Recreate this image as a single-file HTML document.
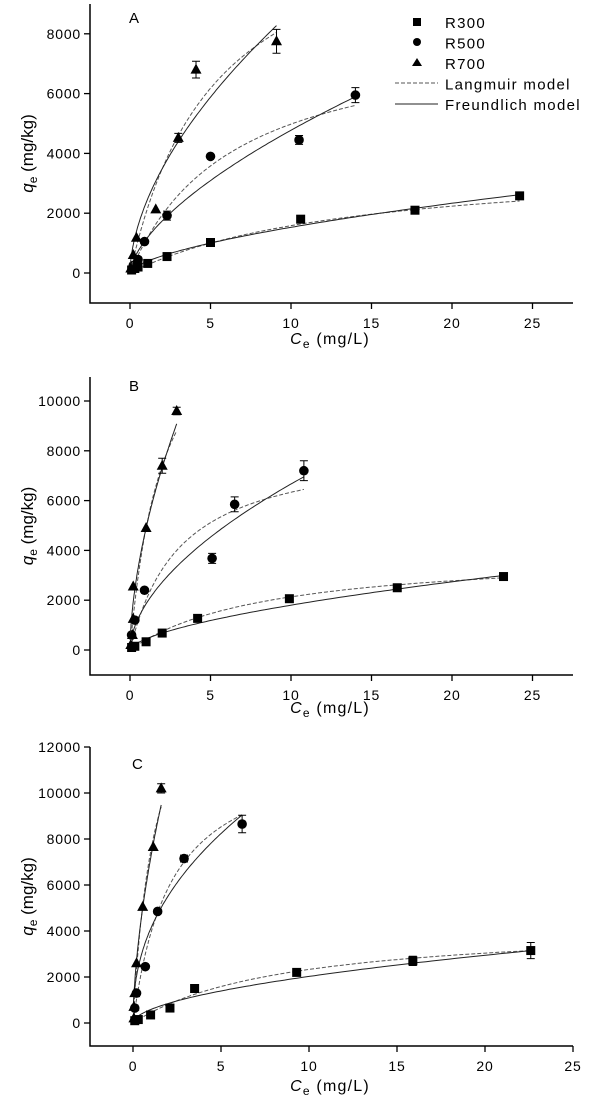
<!DOCTYPE html>
<html><head><meta charset="utf-8"><style>
body{margin:0;background:#fff}
svg text{font-family:"Liberation Sans",sans-serif;fill:#000}
</style></head><body>
<svg id="s" xmlns="http://www.w3.org/2000/svg" width="600" height="1107" viewBox="0 0 600 1107"></svg>
<script>
const S=document.getElementById('s');let h='';
const panels=[
{lab:'A',lx:129,ly:23,x0:130,xs:16.1,y0:273,ys:29.9/1000,ytop:4,ybot:303,yt:[0,2000,4000,6000,8000],xl:344,
 ser:[
 {m:'s',pts:[[0.1,100],[0.3,150],[0.5,200],[1.1,320],[2.3,550],[5,1020],[10.6,1800],[17.7,2100,120],[24.2,2580,100]],F:[375,0.61],L:[3800,0.0714],xe:24.2},
 {m:'c',pts:[[0.2,250],[0.5,450],[0.9,1050],[2.3,1920,150],[5,3900],[10.5,4450,150],[14,5950,250]],F:[1127,0.627],L:[8170,0.156],xe:14},
 {m:'t',pts:[[0.05,150],[0.2,600],[0.4,1180],[1.6,2130],[3,4520,150],[4.1,6800,280],[9.1,7750,400]],F:[2350,0.57],L:[12750,0.188],xe:9.1}]},
{lab:'B',lx:129,ly:391,x0:130,xs:16.1,y0:650,ys:24.9/1000,ytop:377,ybot:675,yt:[0,2000,4000,6000,8000,10000],xl:713,
 ser:[
 {m:'s',pts:[[0.1,100],[0.3,150],[1,330],[2,680],[4.2,1270],[9.9,2060],[16.6,2500],[23.2,2950]],F:[447,0.605],L:[3980,0.1157],xe:23.2},
 {m:'c',pts:[[0.1,600],[0.3,1200],[0.9,2400],[5.1,3680,200],[6.5,5850,300],[10.8,7200,400]],F:[1853,0.556],L:[8320,0.319],xe:10.8},
 {m:'t',pts:[[0.05,200],[0.15,600],[0.2,1250],[0.2,2550],[1,4900],[2,7400,300],[2.9,9600,150]],F:[4900,0.58],L:[15150,0.478],xe:2.9}]},
{lab:'C',lx:132,ly:769,x0:133,xs:17.6,y0:1023,ys:23/1000,ytop:747,ybot:1046,yt:[0,2000,4000,6000,8000,10000,12000],xl:1091,
 ser:[
 {m:'s',pts:[[0.1,100],[0.3,150],[1,350],[2.1,650],[3.5,1500],[9.3,2200,150],[15.9,2700,200],[22.6,3150,350]],F:[584,0.54],L:[4370,0.114],xe:22.6},
 {m:'c',pts:[[0.1,650],[0.2,1300],[0.7,2450],[1.4,4850],[2.9,7150,150],[6.2,8650,380]],F:[4090,0.435],L:[12190,0.465],xe:6.2},
 {m:'t',pts:[[0.05,200],[0.05,700],[0.1,1300],[0.2,2600],[0.55,5050],[1.15,7650],[1.6,10200,200]],F:[7150,0.6],L:[16840,0.79],xe:1.6}]}
];
for(const p of panels){
 const X=x=>p.x0+x*p.xs, Y=y=>p.y0-y*p.ys;
 h+=`<path d="M90 ${p.ytop}V${p.ybot}H573" fill="none" stroke="#000" stroke-width="1.5"/>`;
 for(const t of p.yt){h+=`<line x1="84" x2="90" y1="${Y(t)}" y2="${Y(t)}" stroke="#000" stroke-width="1.3"/><text x="81" y="${Y(t)+5}" font-size="14" text-anchor="end" letter-spacing="0.8">${t}</text>`;}
 for(const t of [0,5,10,15,20,25]){h+=`<line x1="${X(t)}" x2="${X(t)}" y1="${p.ybot}" y2="${p.ybot+6}" stroke="#000" stroke-width="1.3"/><text x="${X(t)}" y="${p.ybot+25}" font-size="14" text-anchor="middle" letter-spacing="0.8">${t}</text>`;}
 h+=`<text x="${p.lx}" y="${p.ly}" font-size="15">${p.lab}</text>`;
 const cy=(p.ytop+p.ybot)/2;
 h+=`<text transform="translate(33 ${cy}) rotate(-90)" font-size="17" text-anchor="middle"><tspan font-style="italic">q</tspan><tspan font-size="12" dy="4">e</tspan><tspan dy="-4"> (mg/kg)</tspan></text>`;
 h+=`<text x="330" y="${p.xl}" font-size="16" text-anchor="middle" letter-spacing="1.2"><tspan font-style="italic">C</tspan><tspan font-size="12" dy="4">e</tspan><tspan dy="-4"> (mg/L)</tspan></text>`;
 for(const s of p.ser){
  let f='',l='';
  for(let i=0;i<=120;i++){const x=0.02+(s.xe-0.02)*Math.pow(i/120,2);
   f+=(i?'L':'M')+X(x).toFixed(1)+' '+Y(s.F[0]*Math.pow(x,s.F[1])).toFixed(1);
   l+=(i?'L':'M')+X(x).toFixed(1)+' '+Y(s.L[0]*s.L[1]*x/(1+s.L[1]*x)).toFixed(1);}
  h+=`<path d="${l}" fill="none" stroke="#555" stroke-width="1" stroke-dasharray="4 2"/>`;
  h+=`<path d="${f}" fill="none" stroke="#222" stroke-width="1"/>`;
  for(const q of s.pts){const x=X(q[0]),y=Y(q[1]);
   if(q[2]){const e=q[2]*p.ys;h+=`<path d="M${x} ${y-e}V${y+e}M${x-4} ${y-e}H${x+4}M${x-4} ${y+e}H${x+4}" stroke="#000" stroke-width="1"/>`;}
   if(s.m=='s')h+=`<rect x="${x-4.5}" y="${y-4.5}" width="9" height="9"/>`;
   else if(s.m=='c')h+=`<circle cx="${x}" cy="${y}" r="4.8"/>`;
   else h+=`<path d="M${x} ${y-6}L${x+5.5} ${y+4}H${x-5.5}Z"/>`;}
 }
}
h+=`<rect x="413" y="18" width="8" height="8"/><circle cx="417" cy="42" r="4"/><path d="M417 58L422 66H412Z"/>`;
h+=`<line x1="395" x2="438" y1="83" y2="83" stroke="#555" stroke-dasharray="4 2"/><line x1="395" x2="438" y1="104" y2="104" stroke="#222"/>`;
const lt=['R300','R500','R700','Langmuir model','Freundlich model'];
lt.forEach((t,i)=>{h+=`<text x="445" y="${28+i*20.5}" font-size="15" letter-spacing="1.3">${t}</text>`;});
S.innerHTML=h;
</script>
</body></html>
